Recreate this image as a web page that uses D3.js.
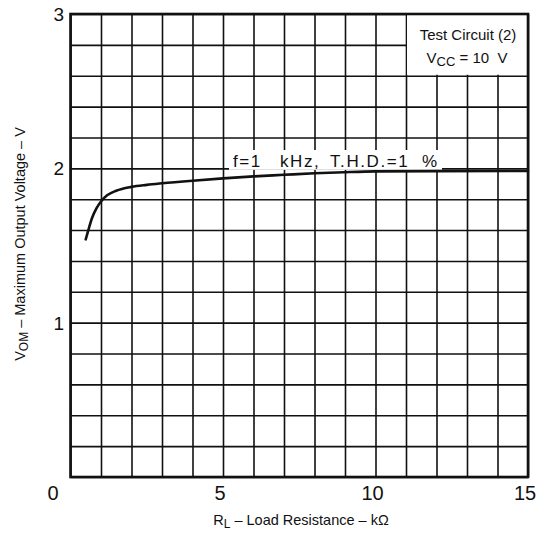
<!DOCTYPE html>
<html><head><meta charset="utf-8">
<script src="https://cdn.jsdelivr.net/npm/d3@7"></script>
<style>
html,body{margin:0;padding:0;background:#fff;}
text{font-family:"Liberation Sans",Arial,Helvetica,sans-serif;fill:#111;}
</style></head>
<body><svg id="c" width="537" height="537"></svg>
<script>
// Data
const rl = [0.5, 0.6, 0.7, 0.85, 1.0, 1.2, 1.5, 2.0, 2.5, 3.0, 4.0, 5.0, 6.0, 7.0, 8.0, 9.0, 10.0, 12.0, 15.0];
const vom = [1.54, 1.61, 1.675, 1.74, 1.785, 1.825, 1.855, 1.88, 1.893, 1.903, 1.92, 1.935, 1.948, 1.958, 1.968, 1.975, 1.98, 1.982, 1.983];
const xTickValues = [5, 10, 15];
const yTickValues = [1, 2, 3];
const xTitle = ["R", "L", " \u2013 Load Resistance \u2013 k\u03A9"];
const yTitle = ["V", "OM", " \u2013 Maximum Output Voltage \u2013 V"];
const curveLabelWords = ["f=1", "kHz,", "T.H.D.=1", "%"];
const boxLine1 = "Test Circuit (2)";
const boxLine2 = ["V", "CC", " = 10  V"];

const svg = d3.select("#c");
const x = d3.scaleLinear().domain([0, 15]).range([70.5, 528]);
const y = d3.scaleLinear().domain([0, 3]).range([477, 14]);

// grid
const gx = svg.append("g").attr("transform", `translate(0,${y(0)})`)
  .call(d3.axisBottom(x).tickValues(d3.range(0, 15.01, 1)).tickSize(-(y(0) - y(3))).tickFormat(""));
const gy = svg.append("g").attr("transform", `translate(${x(0)},0)`)
  .call(d3.axisLeft(y).tickValues(d3.range(0, 15.01, 1).map(d => d * 0.2)).tickSize(-(x(15) - x(0))).tickFormat(""));
[gx, gy].forEach(g => {
  g.select(".domain").remove();
  g.selectAll(".tick line").attr("stroke", "#111").attr("stroke-width", 1.6);
});

// white boxes (legend & curve label)
svg.append("rect").attr("x", x(11) + 1).attr("y", y(3)).attr("width", x(15) - x(11) - 1).attr("height", y(2.6) - y(3) - 1).attr("fill", "#fff");
svg.append("rect").attr("x", 229).attr("y", 150).attr("width", 213).attr("height", y(2) - 150 + 1.5).attr("fill", "#fff");

// frame
svg.append("rect").attr("x", x(0)).attr("y", y(3)).attr("width", x(15) - x(0)).attr("height", y(0) - y(3))
  .attr("fill", "none").attr("stroke", "#111").attr("stroke-width", 2.6);

// curve
const pts = rl.map((d, i) => [d, vom[i]]);
svg.append("path").datum(pts)
  .attr("d", d3.line().x(d => x(d[0])).y(d => y(d[1])).curve(d3.curveMonotoneX))
  .attr("fill", "none").attr("stroke", "#111").attr("stroke-width", 2.6).attr("stroke-linecap", "round");

// curve label
const wordX = [233, 280, 330, 422];
const cl = svg.append("text").attr("y", 167).attr("font-size", 17).attr("letter-spacing", 1.6);
curveLabelWords.forEach((w, i) => cl.append("tspan").attr("x", wordX[i]).text(w));

// legend box text
svg.append("text").attr("x", x(13) + 1).attr("y", 40).attr("text-anchor", "middle").attr("font-size", 15).text(boxLine1);
const t2 = svg.append("text").attr("x", x(13)).attr("y", 63).attr("text-anchor", "middle").attr("font-size", 15).attr("xml:space", "preserve");
t2.append("tspan").text(boxLine2[0]);
t2.append("tspan").attr("dy", 3).attr("font-size", 13).text(boxLine2[1]);
t2.append("tspan").attr("dy", -3).text(boxLine2[2]);

// tick labels
svg.append("g").selectAll("text").data(xTickValues).join("text")
  .attr("x", d => x(d) - 3).attr("y", 500).attr("text-anchor", "middle").attr("font-size", 20).text(d => d);
svg.append("g").selectAll("text").data(yTickValues).join("text")
  .attr("x", 64).attr("y", d => y(d) + 7).attr("text-anchor", "end").attr("font-size", 19).text(d => d);
svg.append("text").attr("x", 53).attr("y", 500).attr("text-anchor", "middle").attr("font-size", 20).text(0);

// axis titles
const xt = svg.append("text").attr("x", 301).attr("y", 525).attr("text-anchor", "middle").attr("font-size", 14.5).attr("xml:space", "preserve");
xt.append("tspan").text(xTitle[0]);
xt.append("tspan").attr("dy", 3).attr("font-size", 12).text(xTitle[1]);
xt.append("tspan").attr("dy", -3).text(xTitle[2]);

const yt = svg.append("text").attr("transform", "translate(25,244) rotate(-90)").attr("text-anchor", "middle").attr("font-size", 14.5).attr("xml:space", "preserve");
yt.append("tspan").text(yTitle[0]);
yt.append("tspan").attr("dy", 3).attr("font-size", 12).text(yTitle[1]);
yt.append("tspan").attr("dy", -3).text(yTitle[2]);
</script></body></html>
